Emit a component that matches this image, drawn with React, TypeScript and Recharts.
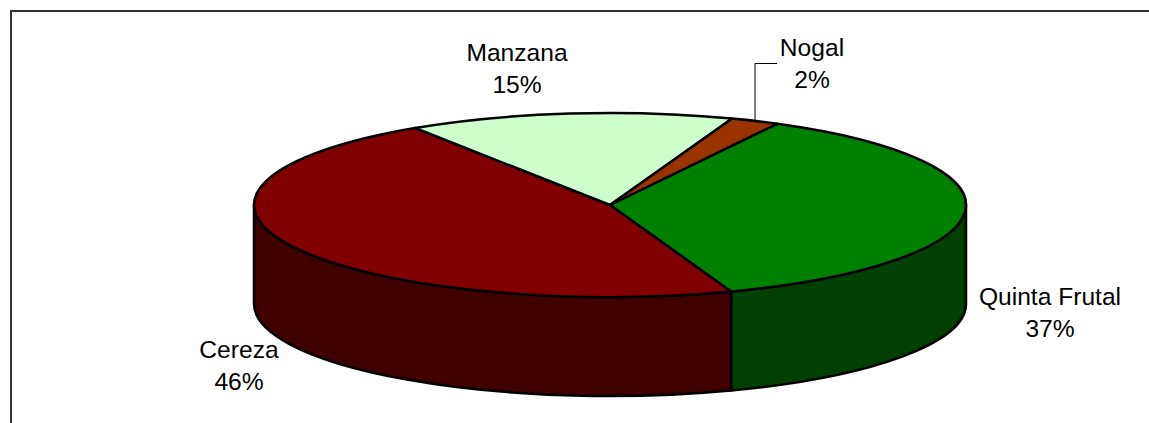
import { Pie, PieChart } from "recharts";

const sliceNames = ["Quinta Frutal", "Cereza", "Manzana", "Nogal"];
const sliceValues = [36.7, 46.3, 14.8, 2.2];
const topColors = ["#008000", "#800000", "#CCFFCC", "#993300"];
const sideColors = ["#004000", "#400000", "#669966", "#4d1a00"];

const data = sliceNames.map((name, i) => ({
  name,
  value: sliceValues[i],
  fill: topColors[i],
  side: sideColors[i],
}));

// the pie is squashed into an ellipse, with this much side wall below it
const SQUASH = 92 / 356;
const DEPTH = 99;

const pt = (cx: number, cy: number, r: number, deg: number) => {
  const a = (deg * Math.PI) / 180;
  return [cx + r * Math.cos(a), cy - r * SQUASH * Math.sin(a)];
};

const TopSlice = (p: any) => {
  const [x1, y1] = pt(p.cx, p.cy, p.outerRadius, p.startAngle);
  const [x2, y2] = pt(p.cx, p.cy, p.outerRadius, p.endAngle);
  const large = Math.abs(p.startAngle - p.endAngle) > 180 ? 1 : 0;
  const ry = p.outerRadius * SQUASH;
  return (
    <path
      d={`M${p.cx},${p.cy} L${x1},${y1} A${p.outerRadius},${ry} 0 ${large} 1 ${x2},${y2} Z`}
      fill={p.fill}
      stroke="#000"
      strokeWidth={2.5}
      strokeLinejoin="round"
    />
  );
};

const SideSlice = (p: any) => {
  // only the front half of the rim shows (angles 0 to -180)
  const from = Math.min(p.startAngle, 0);
  const to = Math.max(p.endAngle, -180);
  if (from <= to) return null;
  const [x1, y1] = pt(p.cx, p.cy, p.outerRadius, from);
  const [x2, y2] = pt(p.cx, p.cy, p.outerRadius, to);
  const ry = p.outerRadius * SQUASH;
  return (
    <path
      d={`M${x1},${y1} A${p.outerRadius},${ry} 0 0 1 ${x2},${y2} L${x2},${y2 + DEPTH} A${p.outerRadius},${ry} 0 0 0 ${x1},${y1 + DEPTH} Z`}
      fill={p.payload?.side ?? p.side}
      stroke="#000"
      strokeWidth={2.5}
      strokeLinejoin="round"
    />
  );
};

const labelPos: Record<string, [number, number]> = {
  "Quinta Frutal": [1050, 305],
  Cereza: [239, 358],
  Manzana: [517, 61],
  Nogal: [812, 56],
};

const SliceLabel = (p: any) => {
  const [x, y] = pt(p.cx, p.cy, p.outerRadius, p.midAngle);
  const [tx, ty] = labelPos[p.name];
  return (
    <g>
      {p.name === "Nogal" && (
        <polyline points={`${x},${y} ${x},${ty + 7.5} ${tx - 35},${ty + 7.5}`} fill="none" stroke="#000" strokeWidth={1} />
      )}
      <text x={tx} y={ty} textAnchor="middle" fontFamily="Liberation Sans" fontSize={24.6} fill="#000">
        {p.name}
      </text>
      <text x={tx} y={ty + 31.5} textAnchor="middle" fontFamily="Liberation Sans" fontSize={24.6} fill="#000">
        {`${Math.round(p.value)}%`}
      </text>
    </g>
  );
};

export default function App() {
  return (
    <div style={{ position: "absolute", left: 0, top: 0, width: 1149, height: 423, overflow: "hidden", background: "#fff" }}>
      <div style={{ position: "absolute", left: 10, top: 10, width: 1139, height: 413, borderLeft: "2px solid #333", borderTop: "2px solid #333" }} />
      <div style={{ position: "absolute", left: 0, top: 0 }}>
        <PieChart width={1149} height={423} margin={{ top: 0, right: 0, bottom: 0, left: 0 }}>
          <Pie data={data} dataKey="value" nameKey="name" cx={610} cy={205} outerRadius={356} startAngle={62} endAngle={-298} isAnimationActive={false} shape={SideSlice} label={false} labelLine={false} />
          <Pie data={data} dataKey="value" nameKey="name" cx={610} cy={205} outerRadius={356} startAngle={62} endAngle={-298} isAnimationActive={false} shape={TopSlice} label={SliceLabel} labelLine={false} />
        </PieChart>
      </div>
    </div>
  );
}
